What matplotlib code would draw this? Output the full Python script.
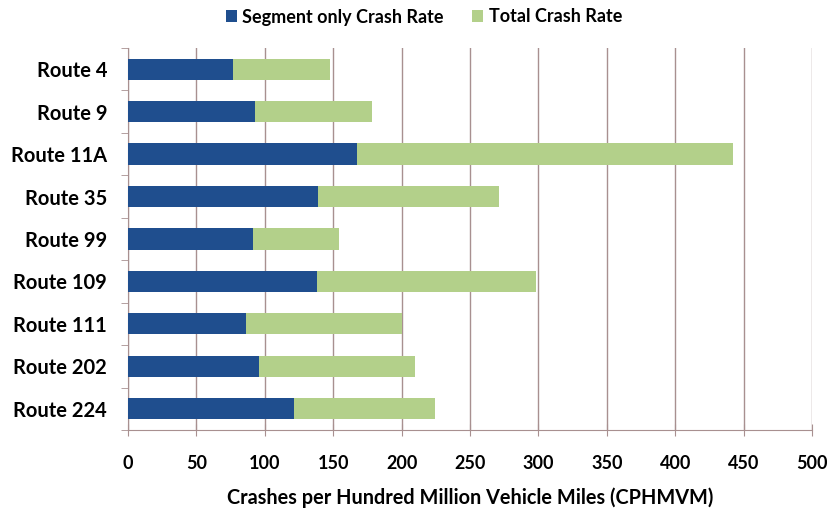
import matplotlib
matplotlib.use("Agg")
import matplotlib.pyplot as plt
import numpy as np

routes = ["Route 4", "Route 9", "Route 11A", "Route 35", "Route 99",
          "Route 109", "Route 111", "Route 202", "Route 224"]
segment_rate = [76.5, 92.5, 167.5, 139, 91.5, 138.5, 86, 95.5, 121]
total_rate = [148, 178.5, 442, 271, 154, 298.5, 200, 209.5, 224.5]
xticks = [0, 50, 100, 150, 200, 250, 300, 350, 400, 450, 500]

plt.rcParams['font.family'] = ['Lato', 'DejaVu Sans']

blue = "#1f4e8e"
green = "#b3d08a"
grid_c = "#a89090"

fig = plt.figure(figsize=(8.28, 5.11), dpi=100)
ax = fig.add_axes([128/828, 1 - 430/511, 684/828, 382/511])

y = np.arange(len(routes))
seg = np.array(segment_rate)
tot = np.array(total_rate)
ax.barh(y, seg, height=0.5, color=blue, label="Segment only Crash Rate", zorder=3)
ax.barh(y, tot - seg, left=seg, height=0.5, color=green, label="Total Crash Rate", zorder=3)

ax.set_ylim(len(routes) - 0.5, -0.5)
ax.set_xlim(0, 500)
ax.set_xticks(xticks)
ax.set_xticklabels([str(t) for t in xticks], fontsize=13, fontweight='bold')
ax.set_yticks(y)
ax.set_yticklabels(routes, fontsize=14.5, fontweight='bold')
ax.tick_params(axis='y', length=0, pad=15)
ax.set_yticks(np.arange(-0.5, len(routes), 1), minor=True)
ax.tick_params(axis='y', which='minor', length=5, color=grid_c, direction='out')
ax.tick_params(axis='x', length=8, color=grid_c, direction='inout', pad=14)

ax.grid(axis='x', color=grid_c, linewidth=1, zorder=0)
for s in ['top', 'right']:
    ax.spines[s].set_visible(False)
for s in ['left', 'bottom']:
    ax.spines[s].set_color(grid_c)

ax.set_xlabel("Crashes per Hundred Million Vehicle Miles (CPHMVM)",
              fontsize=14.3, fontweight='bold', labelpad=11)

leg = fig.legend(loc='center', bbox_to_anchor=(0.512, 1 - 17/511), ncol=2,
                 frameon=False, prop={'weight': 'bold', 'size': 13},
                 handlelength=0.6, handleheight=0.6, handletextpad=0.3,
                 columnspacing=1.6)

fig.savefig("out.png", dpi=100)
